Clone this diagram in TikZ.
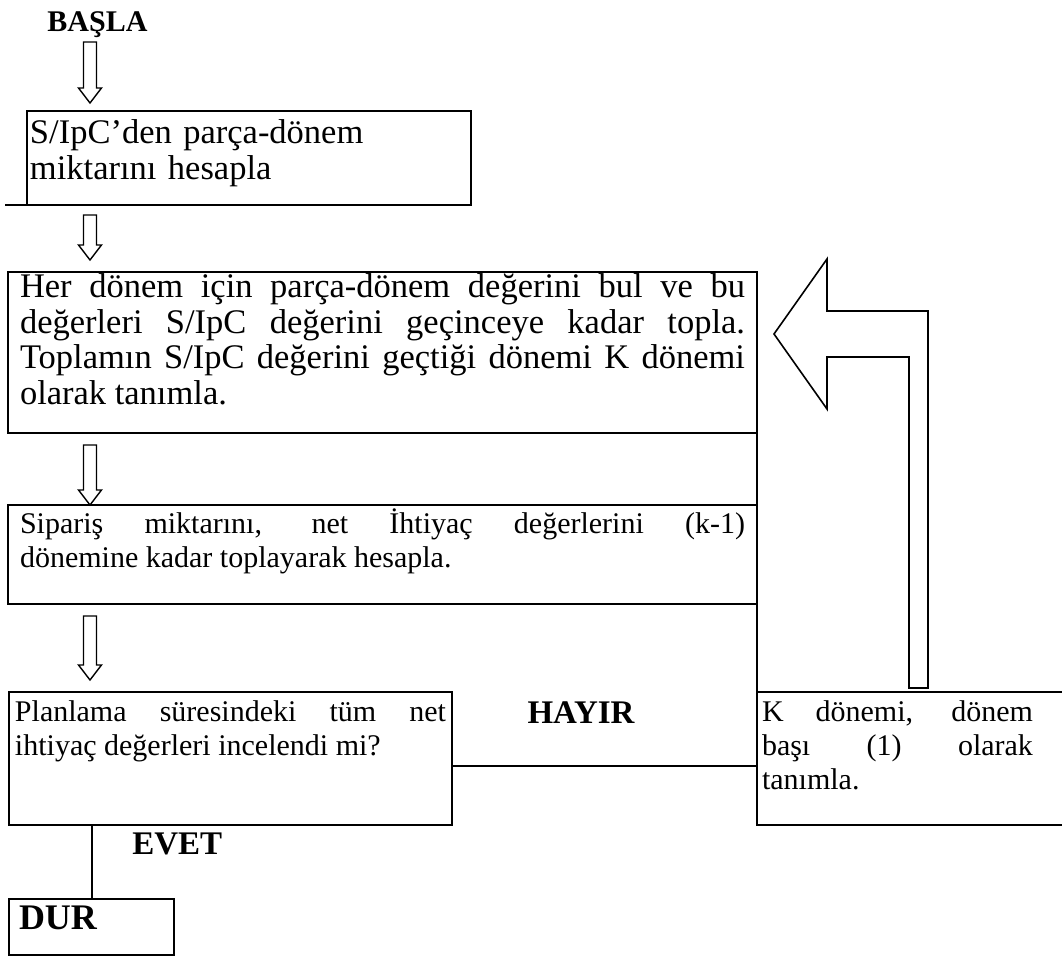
\documentclass[tikz,border=0pt]{standalone}
\usepackage{fontspec}
\setmainfont{Liberation Serif}
\tolerance=10000
\hbadness=10000

% hollow down arrow: x, top of shaft, tip
\newcommand{\downblock}[3]{%
  \draw[line width=0.7pt] (#1-6.5,#2) -- (#1+6.5,#2) -- (#1+6.5,#3-15)
    -- (#1+11.5,#3-15) -- (#1,#3) -- (#1-11.5,#3-15) -- (#1-6.5,#3-15) -- cycle;
}

\tikzset{
  flowbox/.style={draw, line width=1pt, anchor=north west, inner ysep=0pt,
    outer sep=0pt, align=justify, font=\fontsize{15}{17}\selectfont},
  bigbox/.style={flowbox, font=\fontsize{17.25}{17.75}\selectfont},
  flowlabel/.style={inner sep=0pt, font=\fontsize{15}{17}\selectfont\bfseries},
  link/.style={line width=1pt},
}

\begin{document}
\begin{tikzpicture}[x=0.5pt, y=-0.5pt]
\useasboundingbox (0,0) rectangle (1062,956);

% ===== Start and first box =====
\node[flowlabel, anchor=base west] (start) at (47,32) {BAŞLA};
\downblock{90}{42}{103}
\node[bigbox, align=left, inner xsep=1.5pt, text width=219pt,
      text height=16.5pt, text depth=30.5pt] (box1) at (27,111)
  {S/IpC’den parça-dönem\\miktarını hesapla};
\draw[link] (box1.south west) -- ++(-22,0);

% ===== K period =====
\downblock{90}{215}{260}
\node[bigbox, inner xsep=6pt, text width=362.5pt,
      text height=13pt, text depth=67.5pt] (box2) at (8,272)
  {Her dönem için parça-dönem değerini bul ve bu\linebreak
   değerleri S/IpC değerini geçinceye kadar topla.\linebreak
   Toplamın S/IpC değerini geçtiği dönemi K dönemi\linebreak
   olarak tanımla.};

% ===== Order quantity =====
\downblock{90}{445}{505}
\node[flowbox, inner xsep=6pt, text width=362.5pt,
      text height=14.5pt, text depth=35pt] (box3) at (8,505)
  {Sipariş miktarını, net İhtiyaç değerlerini (k-1)\linebreak
   dönemine kadar toplayarak hesapla.};

% ===== Decision and loop back =====
\downblock{90}{616}{680}
\node[flowbox, inner xsep=3pt, text width=215.5pt,
      text height=15pt, text depth=51.5pt] (box4) at (9,692)
  {Planlama süresindeki tüm net\linebreak
   ihtiyaç değerleri incelendi mi?};

\node[flowbox, draw=none, inner xsep=2.5pt, text width=135.5pt,
      text height=15pt, text depth=51.5pt] (box5) at (757,692)
  {K dönemi, dönem\linebreak başı (1) olarak\linebreak tanımla.};
\coordinate (rim) at (1062,0);
\draw[link] (box5.north west -| rim) -- (box5.north west)
  -- (box5.south west) -- (box5.south west -| rim);

\draw[link] (box2.south east) -- (box3.north east);
\draw[link] (box3.south east) -- (box5.north west);

\node[flowlabel, font=\fontsize{16.5}{17}\selectfont\bfseries, anchor=base]
  (no) at (581,724) {HAYIR};
\draw[link] ([yshift=-4pt]box4.east) -- ([yshift=-4pt]box5.west);

% big return arrow
\draw[line width=0.8pt] (909,688) -- (909,357) -- (827,357) -- (827,409)
  -- (774,334) -- (827,259) -- (827,311) -- (928,311) -- (928,688) -- cycle;

% ===== Stop =====
\node[flowlabel, font=\fontsize{16.5}{17}\selectfont\bfseries, anchor=base west]
  (yes) at (132,855) {EVET};
\node[flowbox, align=left, font=\fontsize{18}{18}\selectfont\bfseries,
      inner xsep=5pt, text width=72.5pt,
      text height=15.5pt, text depth=12.5pt] (stop) at (9,899) {DUR};
\draw[link] (stop.north) -- (stop.north |- box4.south);

\end{tikzpicture}
\end{document}
